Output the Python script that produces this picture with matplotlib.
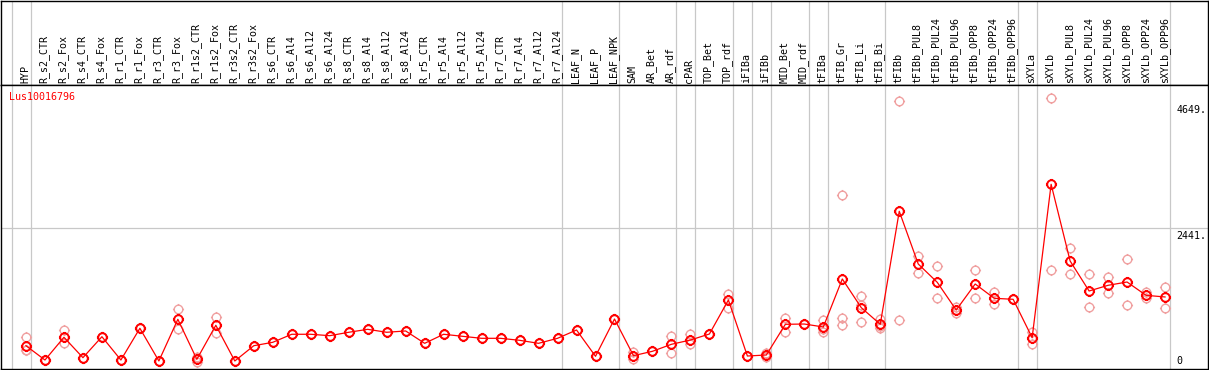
import matplotlib
matplotlib.use('Agg')
import matplotlib.pyplot as plt
import matplotlib.transforms as mtransforms
from matplotlib.path import Path
import numpy as np

#sample names shown across the top
samples = ['HYP', 'R_s2_CTR', 'R_s2_Fox', 'R_s4_CTR', 'R_s4_Fox', 'R_r1_CTR', 'R_r1_Fox',
           'R_r3_CTR', 'R_r3_Fox', 'R_r1s2_CTR', 'R_r1s2_Fox', 'R_r3s2_CTR', 'R_r3s2_Fox',
           'R_s6_CTR', 'R_s6_Al4', 'R_s6_Al12', 'R_s6_Al24', 'R_s8_CTR', 'R_s8_Al4',
           'R_s8_Al12', 'R_s8_Al24', 'R_r5_CTR', 'R_r5_Al4', 'R_r5_Al12', 'R_r5_Al24',
           'R_r7_CTR', 'R_r7_Al4', 'R_r7_Al12', 'R_r7_Al24', 'LEAF_N', 'LEAF_P', 'LEAF_NPK',
           'SAM', 'AR_Bet', 'AR_rdf', 'cPAR', 'TOP_Bet', 'TOP_rdf', 'iFIBa', 'iFIBb',
           'MID_Bet', 'MID_rdf', 'tFIBa', 'tFIB_Gr', 'tFIB_Li', 'tFIB_Bi', 'tFIBb',
           'tFIBb_PUL8', 'tFIBb_PUL24', 'tFIBb_PUL96', 'tFIBb_OPP8', 'tFIBb_OPP24',
           'tFIBb_OPP96', 'sXYLa', 'sXYLb', 'sXYLb_PUL8', 'sXYLb_PUL24', 'sXYLb_PUL96',
           'sXYLb_OPP8', 'sXYLb_OPP24', 'sXYLb_OPP96']

#mean expression per sample
means = [379, 128, 527, 169, 537, 128, 685, 111, 843, 140, 738, 111, 379,
         439, 580, 580, 555, 615, 667, 615, 638, 421, 580, 544, 509,
         509, 474, 421, 509, 655, 193, 848,
         204, 281, 404, 479, 585, 1182, 198, 216,
         755, 760, 708, 1551, 1047, 755, 2740,
         1814, 1493, 1006, 1463, 1212, 1194,
         520, 3214, 1867, 1340, 1440, 1498, 1264, 1235]

#individual replicates per sample
replicates = [[537, 305, 295], [128, 128], [655, 421], [169, 169], [537, 537],
              [128, 128], [685, 685], [111, 111], [1019, 667], [186, 94],
              [878, 597], [111, 111], [379, 379],
              [439, 439], [580, 580], [580, 580], [555, 555], [615, 615], [667, 667],
              [615, 615], [638, 638], [421, 421], [580, 580], [544, 544], [509, 509],
              [509, 509], [474, 474], [421, 421], [509, 509], [655, 655], [193, 193],
              [848, 848],
              [146, 262], [281, 281], [550, 246], [585, 409], [585, 585], [1287, 1047],
              [198, 198], [256, 176],
              [871, 625], [760, 760], [831, 625, 668], [3027, 861, 743],
              [1247, 790, 1100], [848, 685, 733], [4672, 831],
              [1955, 1651], [1779, 1212], [959, 1053], [1704, 1212], [1317, 1117],
              [1194, 1194],
              [625, 404], [4724, 1704], [2090, 1639], [1639, 1054], [1591, 1300],
              [1902, 1089], [1328, 1212], [1410, 1036]]

#last sample of each group, a grey separator follows it
group_ends = [-1, 0, 28, 31, 34, 35, 37, 38, 39, 41, 42, 45, 52, 53, 60]

gene = 'Lus10016796'
ref_lines = [4649, 2441, 0]

W, H = 1209, 370
fig = plt.figure(figsize=(W / 100, H / 100), dpi=100, facecolor='w')

#header strip and plot strip, positioned in pixels
head = fig.add_axes([0.5 / W, (H - 85) / H, 1207 / W, 84.5 / H])
ax = fig.add_axes([0.5 / W, 1 / H, 1207 / W, 284 / H])

xmin, xmax = -25.5 / 19, 1182.5 / 19
for a in (head, ax):
    a.set_xlim(xmin, xmax)
    a.set_xticks([])
    a.set_yticks([])
    for s in a.spines.values():
        s.set_linewidth(1.0)
        s.set_color('black')
    for g in group_ends:
        a.axvline(g + 0.24, color='#c8c8c8', lw=0.9, zorder=0)

ax.set_ylim(-30, 4958)
head.set_ylim(0, 1)

#rotated sample labels
trans = mtransforms.blended_transform_factory(head.transData, head.transAxes)
for i, name in enumerate(samples):
    head.text(i - 0.05, 0.025, name, rotation=90, ha='center', va='bottom',
              fontsize=7.2, family='DejaVu Sans Mono', transform=trans)

#circle with small ticks as marker (polygon circle, then four stubs)
t = np.linspace(0, 2 * np.pi, 33)
verts = [(np.cos(a), np.sin(a)) for a in t]
codes = [Path.MOVETO] + [Path.LINETO] * 31 + [Path.CLOSEPOLY]
for dx, dy in [(0, 1), (0, -1), (1, 0), (-1, 0)]:
    verts += [(dx, dy), (1.3 * dx, 1.3 * dy)]
    codes += [Path.MOVETO, Path.LINETO]
gear = Path(verts, codes)

#horizontal reference line
ax.axhline(2441, color='#c8c8c8', lw=0.9, zorder=0)

#replicates
for i, reps in enumerate(replicates):
    ax.plot([i] * len(reps), reps, linestyle='none', marker=gear, markersize=8,
            markerfacecolor='none', markeredgecolor='#f0a0a0', markeredgewidth=1.0,
            zorder=2)

#mean line
x = list(range(len(samples)))
ax.plot(x, means, color='red', lw=0.9, zorder=3)
ax.plot(x, means, linestyle='none', marker=gear, markersize=8,
        markerfacecolor='none', markeredgecolor='red', markeredgewidth=1.4, zorder=4)

#gene name and value labels
ax.text(9 / W, (H - 97.3) / H, gene, color='red', fontsize=7.2,
        family='DejaVu Sans Mono', va='center', ha='left', transform=fig.transFigure)
ytrans = mtransforms.blended_transform_factory(ax.transAxes, ax.transData)
for v in ref_lines:
    lab = str(v) + '.' if v else '0'
    ax.text(1178 / W, v + (25 if v == 0 else -40), lab, fontsize=7.2,
            family='DejaVu Sans Mono', va='bottom' if v == 0 else 'top',
            ha='left', transform=ytrans)

fig.savefig('out.png', dpi=100, facecolor='w')
